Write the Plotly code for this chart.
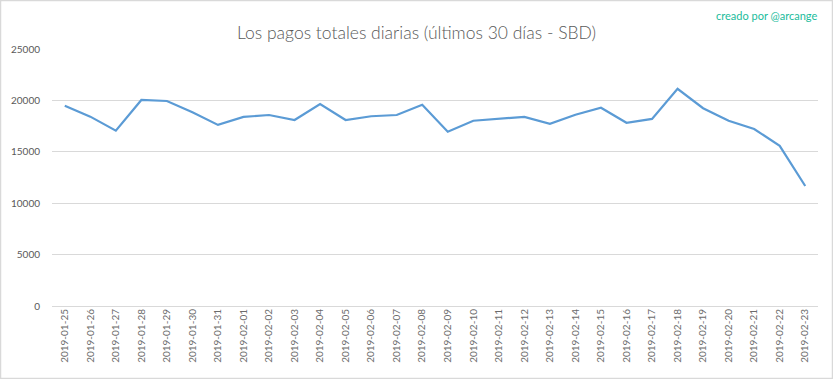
import plotly.graph_objects as go

dates = ["2019-01-25", "2019-01-26", "2019-01-27", "2019-01-28", "2019-01-29", "2019-01-30",
         "2019-01-31", "2019-02-01", "2019-02-02", "2019-02-03", "2019-02-04", "2019-02-05",
         "2019-02-06", "2019-02-07", "2019-02-08", "2019-02-09", "2019-02-10", "2019-02-11",
         "2019-02-12", "2019-02-13", "2019-02-14", "2019-02-15", "2019-02-16", "2019-02-17",
         "2019-02-18", "2019-02-19", "2019-02-20", "2019-02-21", "2019-02-22", "2019-02-23"]
payouts = [19480, 18420, 17060, 20040, 19940, 18850, 17620, 18390, 18580, 18090, 19650, 18090,
           18460, 18580, 19580, 16960, 18020, 18220, 18400, 17730, 18600, 19280, 17820, 18200,
           21130, 19240, 18020, 17220, 15580, 11670]
y_ticks = [0, 5000, 10000, 15000, 20000, 25000]
y_tick_labels = ["0", "5000", "10000", "15000", "20000", "25000"]

W, H = 833, 379
L, R, T, B = 52, 15, 49, 73
pw, ph = W - L - R, H - T - B

fig = go.Figure()
fig.add_trace(go.Scatter(x=dates, y=payouts, mode="lines",
                         line=dict(color="#5b9bd5", width=2.2)))

fig.update_layout(
    width=W, height=H,
    margin=dict(l=L, r=R, t=T, b=B, autoexpand=False),
    paper_bgcolor="white", plot_bgcolor="white",
    showlegend=False,
    font=dict(family="Lato, Open Sans, sans-serif", color="#595959", size=10),
    title=dict(text="Los pagos totales diarias (últimos 30 días - SBD)",
               x=0.5, xanchor="center", y=1 - 33 / H, yanchor="middle",
               font=dict(size=17.5, color="#595959", weight=300,
                         family="Lato, Open Sans, sans-serif")),
    xaxis=dict(type="category", range=[-0.5, len(dates) - 0.5], tickangle=-90,
               showgrid=False, showline=False, automargin=False,
               ticks="", tickfont=dict(size=10, color="#6b6b6b"), fixedrange=True),
    yaxis=dict(range=[0, 25000], tickvals=y_ticks, ticktext=y_tick_labels,
               showgrid=True, gridcolor="#d9d9d9", automargin=False,
               gridwidth=1, zeroline=True, zerolinecolor="#d9d9d9", zerolinewidth=1,
               ticks="", tickfont=dict(size=10, color="#595959"), ticklabelstandoff=11,
               fixedrange=True),
    annotations=[dict(text="creado por @arcange", xref="paper", yref="paper",
                      x=1 + 1 / pw, y=1 + (T - 15) / ph, xanchor="right", yanchor="middle",
                      showarrow=False, font=dict(size=11, color="#1abc9c",
                                                 family="Lato, Open Sans, sans-serif"))],
    shapes=[dict(type="rect", xref="paper", yref="paper",
                 x0=-(L - 0.5) / pw, x1=1 + (R - 0.5) / pw,
                 y0=-(B - 0.5) / ph, y1=1 + (T - 0.5) / ph,
                 line=dict(color="#d9d9d9", width=1.5), fillcolor="rgba(0,0,0,0)")],
)

fig.write_html("out.html", config={"displayModeBar": False},
               post_script="document.body.style.margin='0';")
